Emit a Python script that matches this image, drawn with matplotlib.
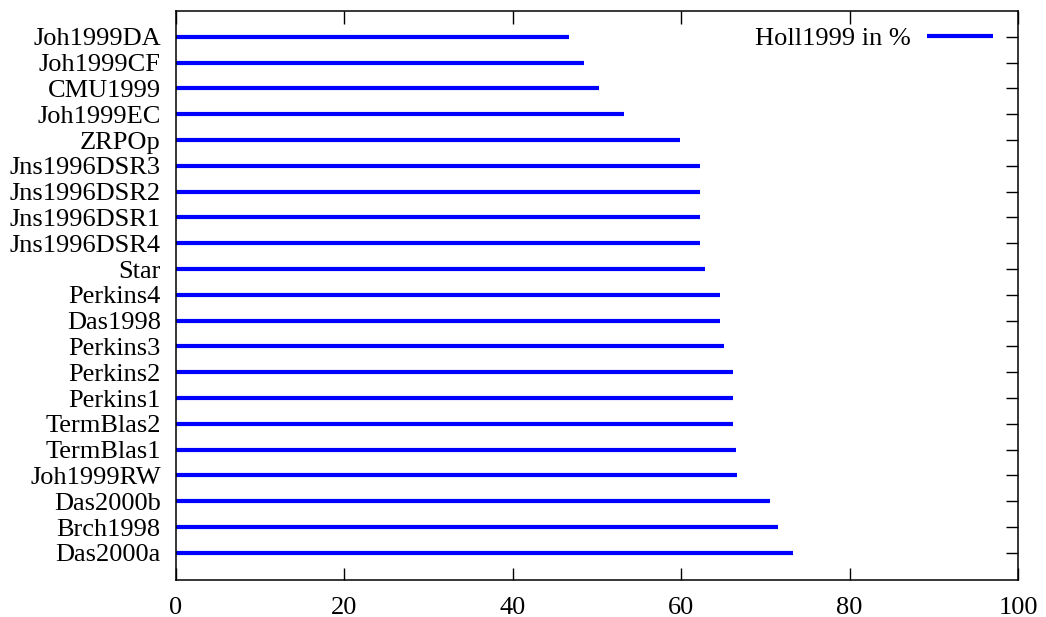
import matplotlib
matplotlib.use("Agg")
import matplotlib.pyplot as plt
import numpy as np

# Systems listed from top of the chart to bottom
systems = [
    "Joh1999DA", "Joh1999CF", "CMU1999", "Joh1999EC", "ZRPOp",
    "Jns1996DSR3", "Jns1996DSR2", "Jns1996DSR1", "Jns1996DSR4", "Star",
    "Perkins4", "Das1998", "Perkins3", "Perkins2", "Perkins1",
    "TermBlas2", "TermBlas1", "Joh1999RW", "Das2000b", "Brch1998", "Das2000a",
]
holl1999_pct = [
    46.7, 48.5, 50.2, 53.2, 59.9,
    62.2, 62.2, 62.2, 62.2, 62.8,
    64.6, 64.6, 65.1, 66.2, 66.2,
    66.2, 66.5, 66.6, 70.5, 71.5, 73.3,
]
x_ticks = [0, 20, 40, 60, 80, 100]
series_label = "Holl1999 in %"

plt.rcParams["font.family"] = ["Liberation Serif", "DejaVu Serif"]
plt.rcParams["font.size"] = 19

fig = plt.figure(figsize=(10.46, 6.17), dpi=100)
ax = fig.add_axes([0.1683, 0.0600, 0.9732 - 0.1683, 0.9822 - 0.0600])

n = len(systems)
ypos = np.arange(n)[::-1]
ax.hlines(ypos, 0, holl1999_pct, colors="#0000ff", linewidth=3.0, label=series_label)

ax.set_xlim(0, 100)
ax.set_ylim(-1.05, n)
ax.set_xticks(x_ticks)
ax.set_yticks(ypos)
ax.set_yticklabels(systems)

for s in ax.spines.values():
    s.set_linewidth(1.1)
    s.set_color("black")

ax.tick_params(axis="both", which="both", direction="in", length=9, width=1.0,
               top=True, right=True, labeltop=False, labelright=False)
ax.tick_params(axis="x", pad=12)
ax.tick_params(axis="y", pad=11)

ax.legend(loc="upper right", bbox_to_anchor=(0.989, 1.0), frameon=False,
          markerfirst=False, handlelength=2.5, handletextpad=0.6,
          borderaxespad=0.3, borderpad=0.3, fontsize=19)

fig.savefig("out.png", dpi=100)
